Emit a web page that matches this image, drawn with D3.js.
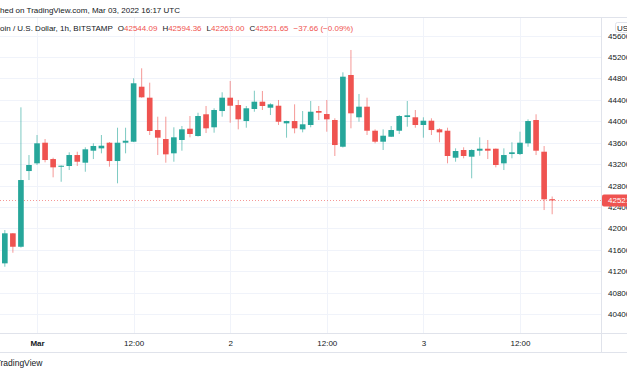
<!DOCTYPE html>
<html>
<head>
<meta charset="utf-8">
<script src="https://cdn.jsdelivr.net/npm/d3@7"></script>
<style>
  body { margin: 0; background: #fff; overflow: hidden; }
  svg { display: block; font-family: "Liberation Sans", Arial, sans-serif; }
</style>
</head>
<body>
<div id="chart"></div>
<script>
// BTC/USD 1h bars, Bitstamp, Feb 28 20:00 UTC -> Mar 03 16:00 UTC
const firstBar = Date.UTC(2022, 1, 28, 20);

const open = [41346, 41907, 41656, 43070, 43214, 43599, 43294, 43151, 43164, 43369,
  43226, 43450, 43494, 43599, 43257, 43599, 43618, 44645, 44440, 43836,
  43668, 43401, 43650, 43861, 43724, 44130, 43887, 44191, 44440, 44303,
  44004, 44229, 44365, 44253, 44290, 43961, 44004, 43849, 43930, 44191,
  44135, 44023, 43524, 44864, 44074, 44272, 43823, 43618, 43711, 43823,
  44079, 44074, 43930, 44010, 43849, 43823, 43319, 43463, 43338, 43450,
  43487, 43487, 43214, 43388, 43388, 43588, 44023, 43431, 42544.09];

const high = [41968, 41912, 44260, 43369, 43743, 43668, 43319, 43175, 43420, 43431,
  43513, 43588, 43743, 43612, 43879, 43879, 44802, 44989, 44720, 44085,
  44085, 43887, 43911, 44098, 44159, 44285, 44242, 44541, 44752, 44397,
  44285, 44570, 44565, 44335, 44397, 44010, 44316, 44191, 44378, 44285,
  44397, 44055, 44914, 45331, 44509, 44440, 43849, 43849, 43911, 44116,
  44378, 44210, 44074, 44055, 43868, 43879, 43494, 43513, 43476, 43700,
  43650, 43490, 43494, 43607, 43805, 44036, 44130, 43537, 42594.36];

const low = [41283, 41544, 41640, 42902, 43183, 43233, 42953, 42870, 43089, 43164,
  43057, 43294, 43401, 43151, 42841, 43401, 43610, 44440, 43743, 43369,
  43226, 43244, 43450, 43700, 43715, 43780, 43786, 44085, 43973, 43849,
  43879, 44178, 44210, 44116, 43930, 43693, 43775, 43793, 43887, 44023,
  43805, 43351, 43510, 43868, 43991, 43743, 43588, 43463, 43705, 43762,
  43898, 43879, 43693, 43743, 43607, 43214, 43244, 43308, 42934, 43356,
  43294, 43139, 43089, 43308, 43369, 43524, 43369, 42342, 42263];

const close = [41907, 41656, 42902, 43183, 43588, 43276, 43139, 43169, 43369, 43244,
  43476, 43538, 43543, 43257, 43599, 43636, 44709, 44447, 43818, 43693,
  43382, 43700, 43849, 43762, 44098, 43868, 44210, 44440, 44290, 44036,
  44242, 44365, 44285, 44316, 43991, 44004, 43868, 43943, 44178, 44160,
  44036, 43556, 44832, 44148, 44272, 43823, 43618, 43730, 43836, 44098,
  44111, 43930, 44010, 43836, 43793, 43351, 43444, 43351, 43463, 43487,
  43450, 43183, 43369, 43420, 43599, 44004, 43450, 42542, 42521.65];

const priceTicks = d3.range(40400, 45601, 400);
const timeTicks = [Date.UTC(2022, 2, 1, 0), Date.UTC(2022, 2, 1, 12), Date.UTC(2022, 2, 2, 0),
  Date.UTC(2022, 2, 2, 12), Date.UTC(2022, 2, 3, 0), Date.UTC(2022, 2, 3, 12)];
const timeLabels = ["Mar", "12:00", "2", "12:00", "3", "12:00"];

const lastPrice = 42521.65;
const legendTitle = "Bitcoin / U.S. Dollar, 1h, BITSTAMP";
const legendValues = [["O", "42544.09"], ["H", "42594.36"], ["L", "42263.00"], ["C", "42521.65"]];
const legendChange = "\u221237.66 (\u22120.09%)";
const header = "Published on TradingView.com, Mar 03, 2022 16:17 UTC";

const config = {
  width: 627, height: 376,
  paneTop: 17, paneBottom: 333, axisBottom: 352, paneRight: 601,
  up: "#26a69a", down: "#ef5350", grid: "#f0f3fa", border: "#e0e3eb", text: "#131722",
  fontSize: 8
};

const bars = open.map((o, i) => ({
  t: firstBar + i * 3600e3, o, h: high[i], l: low[i], c: close[i]
}));

const svg = d3.select("#chart").append("svg")
  .attr("width", config.width)
  .attr("height", config.height);

// scales: visible window runs from ~Feb 28 19:24 to ~Mar 03 22:04
const x = d3.scaleUtc()
  .domain([Date.UTC(2022, 1, 28, 19, 24), Date.UTC(2022, 2, 3, 22, 4)])
  .range([0, config.paneRight]);
const y = d3.scaleLinear().domain([40400, 45200]).range([314, 57]);

const barStep = x(firstBar + 3600e3) - x(firstBar);
const bodyW = barStep * 0.7;

// helper to measure text
function textWidth(str, weight) {
  const t = svg.append("text").attr("font-size", config.fontSize)
    .attr("font-weight", weight || "normal").text(str);
  const w = t.node().getComputedTextLength();
  t.remove();
  return w;
}

// grid
const grid = svg.append("g");
grid.selectAll(".hgrid").data(priceTicks.filter(p => y(p) < config.paneBottom && y(p) > config.paneTop))
  .join("line")
  .attr("x1", 0).attr("x2", config.paneRight)
  .attr("y1", d => Math.round(y(d)) + 0.5).attr("y2", d => Math.round(y(d)) + 0.5)
  .attr("stroke", config.grid);
grid.selectAll(".vgrid").data(timeTicks).join("line")
  .attr("x1", d => Math.round(x(d)) + 0.5).attr("x2", d => Math.round(x(d)) + 0.5)
  .attr("y1", config.paneTop).attr("y2", config.paneBottom)
  .attr("stroke", config.grid);

// pane borders
const borders = svg.append("g").attr("stroke", config.border);
borders.append("line").attr("x1", 0).attr("x2", config.width)
  .attr("y1", config.paneTop + 0.5).attr("y2", config.paneTop + 0.5);
borders.append("line").attr("x1", 0).attr("x2", config.width)
  .attr("y1", config.paneBottom + 0.5).attr("y2", config.paneBottom + 0.5);
borders.append("line").attr("x1", 0).attr("x2", config.width)
  .attr("y1", config.axisBottom + 0.5).attr("y2", config.axisBottom + 0.5);
borders.append("line").attr("x1", config.paneRight + 0.5).attr("x2", config.paneRight + 0.5)
  .attr("y1", config.paneTop).attr("y2", config.axisBottom);

// last price dotted line
svg.append("line")
  .attr("x1", 0).attr("x2", config.paneRight)
  .attr("y1", Math.round(y(lastPrice)) + 0.5).attr("y2", Math.round(y(lastPrice)) + 0.5)
  .attr("stroke", config.down).attr("stroke-opacity", 0.6)
  .attr("stroke-dasharray", "1,2");

// candles
const candle = svg.append("g").selectAll(".candle").data(bars).join("g")
  .attr("class", "candle");
candle.append("line")
  .attr("x1", d => x(d.t)).attr("x2", d => x(d.t))
  .attr("y1", d => y(d.h)).attr("y2", d => y(d.l))
  .attr("stroke", d => d.c >= d.o ? config.up : config.down)
  .attr("stroke-opacity", 0.6);
candle.append("rect")
  .attr("x", d => x(d.t) - bodyW / 2)
  .attr("width", bodyW)
  .attr("y", d => y(Math.max(d.o, d.c)))
  .attr("height", d => Math.max(1, Math.abs(y(d.o) - y(d.c))))
  .attr("fill", d => d.c >= d.o ? config.up : config.down);

// price axis
const yAxis = d3.axisRight(y).tickValues(priceTicks).tickSize(0).tickPadding(7)
  .tickFormat(d3.format("d"));
const yAxisG = svg.append("g")
  .attr("transform", `translate(${config.paneRight},0)`)
  .call(yAxis);
yAxisG.select(".domain").remove();
yAxisG.selectAll("text").attr("font-size", config.fontSize)
  .attr("font-family", "Liberation Sans, Arial, sans-serif").attr("fill", config.text);

// currency box at top of price axis
svg.append("rect").attr("x", 615.5).attr("y", 22.5).attr("width", 20).attr("height", 10)
  .attr("rx", 2).attr("fill", "#fff").attr("stroke", config.border);
svg.append("text").attr("x", 617).attr("y", 30.5).attr("font-size", config.fontSize)
  .attr("fill", config.text).text("USD");

// last price label
svg.append("rect").attr("x", config.paneRight + 1).attr("y", y(lastPrice) - 6)
  .attr("width", 30).attr("height", 12).attr("rx", 2).attr("fill", config.down);
svg.append("text").attr("x", 608).attr("y", y(lastPrice) + 3)
  .attr("font-size", config.fontSize).attr("fill", "#fff").text(d3.format(".2f")(lastPrice));

// time axis
const xAxis = d3.axisBottom(x).tickValues(timeTicks).tickSize(0).tickPadding(7)
  .tickFormat((d, i) => timeLabels[i]);
const xAxisG = svg.append("g")
  .attr("transform", `translate(0,${config.paneBottom})`)
  .call(xAxis);
xAxisG.select(".domain").remove();
xAxisG.selectAll("text").attr("font-size", config.fontSize)
  .attr("font-family", "Liberation Sans, Arial, sans-serif").attr("fill", config.text)
  .attr("font-weight", (d, i) => i === 0 ? "bold" : "normal");

// header line
svg.append("text").attr("x", -textWidth("Publis")).attr("y", 13)
  .attr("font-size", config.fontSize).attr("fill", config.text).text(header);

// legend
const legend = svg.append("text").attr("x", -textWidth("Bitc")).attr("y", 31)
  .attr("font-size", config.fontSize).attr("fill", config.text);
legend.append("tspan").text(legendTitle);
legendValues.forEach(([k, v], i) => {
  legend.append("tspan").attr("dx", 5).text(k);
  legend.append("tspan").attr("fill", config.down).text(v);
});
legend.append("tspan").attr("dx", 5).attr("fill", config.down).text(legendChange);

// footer
svg.append("text").attr("x", -textWidth("T") + 0.5).attr("y", 366)
  .attr("font-size", 8.5).attr("fill", config.text).text("TradingView");
</script>
</body>
</html>
